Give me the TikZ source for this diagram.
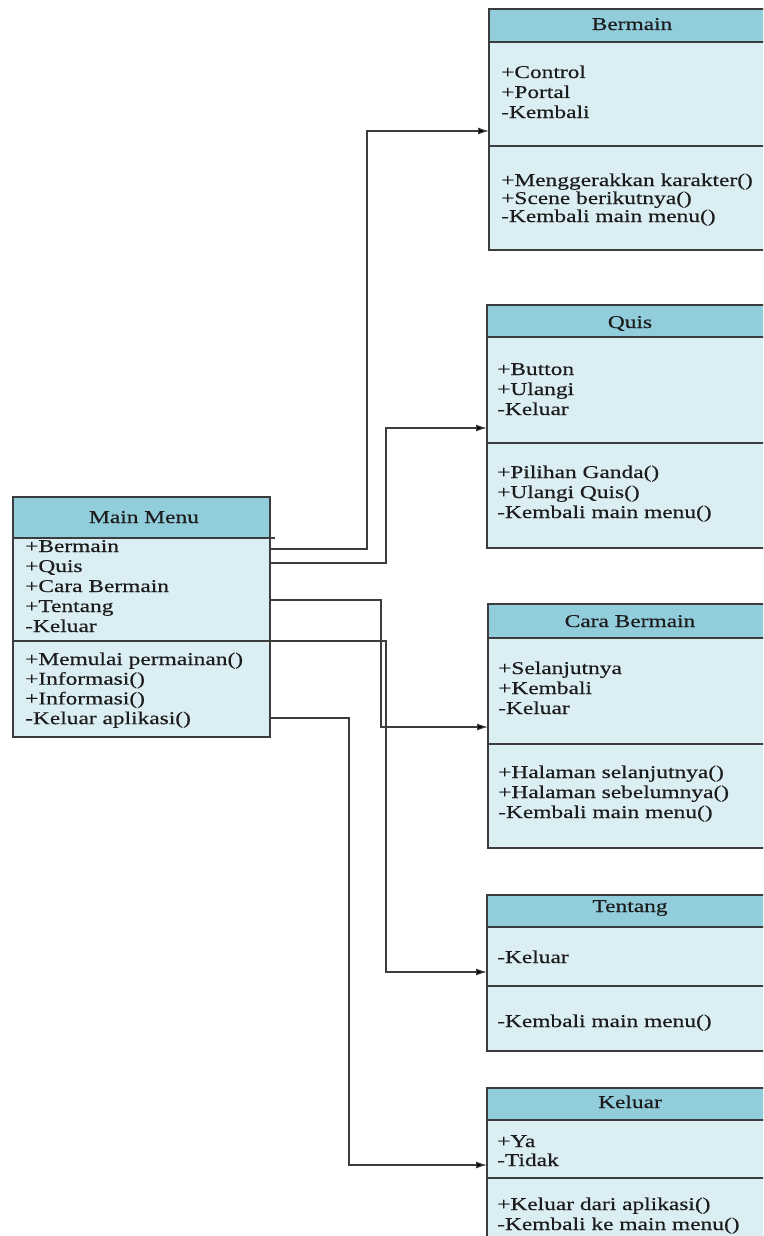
\documentclass[tikz,border=0pt]{standalone}
\usepackage{fontspec}
\setmainfont[FakeStretch=1.3,FakeBold=0.4]{Liberation Serif}
\usetikzlibrary{arrows.meta,calc}

\definecolor{hdrcol}{HTML}{92CDDC}
\definecolor{bodycol}{HTML}{DAEEF3}
\definecolor{linecol}{HTML}{3C3C3C}
\definecolor{inkcol}{HTML}{1C1C1C}

\tikzset{
  frame/.style={draw=linecol, line width=1.1pt},
  boxbody/.style={rectangle, fill=bodycol, inner sep=0pt, outer sep=0pt},
  rowtext/.style={anchor=base west, inner sep=0pt, text=inkcol,
                  font=\fontsize{18}{20}\selectfont},
  titletext/.style={anchor=base, inner sep=0pt, text=inkcol,
                    font=\fontsize{18}{20}\selectfont},
  conn/.style={draw=linecol, line width=1.1pt,
               -{Latex[length=11pt,width=7pt,fill=black]}},
}

% class box: name, left, top, right, bottom, header bottom, separator
\newcommand\umlclass[7]{%
  \node[boxbody, minimum width={#4-#2}, minimum height={#5-#3}]
       (#1) at ({(#2+#4)/2},{(#3+#5)/2}) {};
  \fill[hdrcol] (#2,#3) rectangle (#4,#6);
  \draw[frame] (#2,#6) -- (#4,#6);
  \draw[frame] (#2,#7) -- (#4,#7);
  \draw[frame] (#2,#3) rectangle (#4,#5);
}

% a column of text rows: prefix, x, first baseline, pitch, rows
\newcommand\umlrows[5]{%
  \foreach \t [count=\i] in {#5} {
    \node[rowtext] (#1-\i) at (#2,{#3+(\i-1)*#4}) {\t};
  }%
}

\begin{document}
\begin{tikzpicture}[x=1pt,y=-1pt]
\useasboundingbox[fill=white] (0,0) rectangle (763,1236);
\clip (0,0) rectangle (763,1236);

% ---- Main Menu ----
\umlclass{mm}{13}{497}{270}{737}{538}{641}
\draw[frame] (270,538) -- (275,538);
\node[titletext] (mm-title) at (144,523) {Main Menu};
\umlrows{mma}{25}{552}{20}{{+Bermain},{+Quis},{+Cara Bermain},{+Tentang},{-Keluar}}
\umlrows{mmo}{25}{665}{19.7}{{+Memulai permainan()},{+Informasi()},{+Informasi()},{-Keluar aplikasi()}}

% ---- Bermain ----
\umlclass{bermain}{489}{9}{772}{250}{42}{146}
\node[titletext] (bermain-title) at (632,30) {Bermain};
\umlrows{ba}{501}{78}{20}{{+Control},{+Portal},{-Kembali}}
\umlrows{bo}{501}{186}{18}{{+Menggerakkan karakter()},{+Scene berikutnya()},{-Kembali main menu()}}

% ---- Quis ----
\umlclass{quis}{487}{305}{772}{548}{337}{443}
\node[titletext] (quis-title) at (630,328) {Quis};
\umlrows{qa}{497}{375}{20}{{+Button},{+Ulangi},{-Keluar}}
\umlrows{qo}{497}{478}{20}{{+Pilihan Ganda()},{+Ulangi Quis()},{-Kembali main menu()}}

% ---- Cara Bermain ----
\umlclass{cara}{488}{604}{772}{848}{638}{744}
\node[titletext] (cara-title) at (630,627) {Cara Bermain};
\umlrows{ca}{498}{674}{20}{{+Selanjutnya},{+Kembali},{-Keluar}}
\umlrows{co}{498}{778}{20}{{+Halaman selanjutnya()},{+Halaman sebelumnya()},{-Kembali main menu()}}

% ---- Tentang ----
\umlclass{tentang}{487}{895}{772}{1051}{927}{986}
\node[titletext] (tentang-title) at (630,912) {Tentang};
\umlrows{ta}{497}{963}{20}{{-Keluar}}
\umlrows{to}{497}{1027}{20}{{-Kembali main menu()}}

% ---- Keluar ----
\umlclass{keluar}{487}{1088}{772}{1250}{1120}{1178}
\node[titletext] (keluar-title) at (630,1108) {Keluar};
\umlrows{ka}{497}{1147}{19}{{+Ya},{-Tidak}}
\umlrows{ko}{497}{1210}{20}{{+Keluar dari aplikasi()},{-Kembali ke main menu()}}

% ---- connectors from Main Menu ----
\draw[conn] ($(mm.north east)+(0,52)$)  -| (367,131) -- ($(bermain.north west)+(0,122)$);
\draw[conn] ($(mm.north east)+(0,66)$)  -| (386,428) -- ($(quis.north west)+(0,123)$);
\draw[conn] ($(mm.north east)+(0,103)$) -| (381,727) -- ($(cara.north west)+(0,123)$);
\draw[conn] ($(mm.north east)+(0,144)$) -| (386,972) -- ($(tentang.north west)+(0,77)$);
\draw[conn] ($(mm.north east)+(0,221)$) -| (349,1165) -- ($(keluar.north west)+(0,77)$);
\end{tikzpicture}
\end{document}
